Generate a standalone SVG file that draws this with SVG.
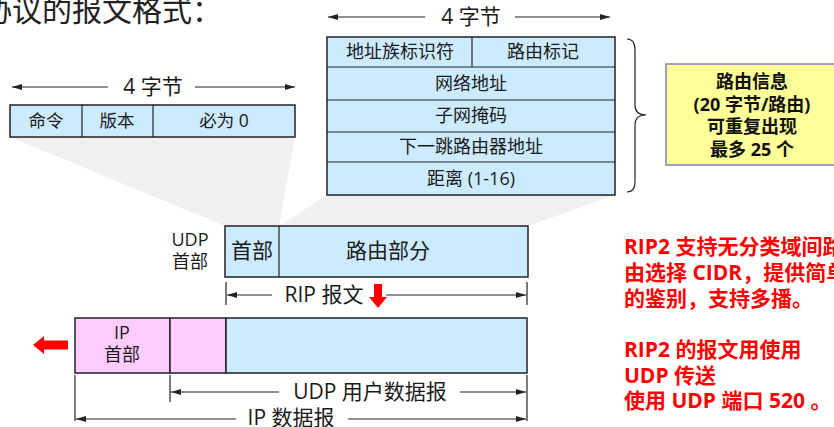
<svg xmlns="http://www.w3.org/2000/svg" width="834" height="427" viewBox="0 0 834 427">
<style>
text{font-family:"Open Sans","Noto Sans CJK SC",sans-serif;fill:#1a1a1a}
.c{text-anchor:middle}
.f17{font-size:17.5px}
.f18{font-size:18px}
.f21{font-size:21px}
.box{fill:#CCEBFF;stroke:#222;stroke-width:1.5}
.pink{fill:#FFCCFF;stroke:#222;stroke-width:1.5}
.ln{stroke:#222;stroke-width:1.2;fill:none}
.dim{stroke:#222;stroke-width:1.2;fill:none}
.red{fill:#FF0000;font-weight:bold;font-size:21px}
.yel{font-weight:bold;font-size:18px;fill:#111}
.shade{fill:#F0F0F0}
</style>
<defs>
<marker id="ah" viewBox="0 0 10 6" refX="10" refY="3" markerWidth="10" markerHeight="6" markerUnits="userSpaceOnUse" orient="auto-start-reverse">
<path d="M0,0 L10,3 L0,6 z" fill="#222"/>
</marker>
</defs>

<text x="-18" y="21" style="font-size:30px;fill:#222">协议的报文格式：</text>

<g id="shading">
<polygon class="shade" points="10,137 295,137 279,226 225,226"/>
<polygon class="shade" points="327,195 615,195 528,226 279,226"/>
</g>

<g id="header-box">
<rect class="box" x="10" y="105" width="285" height="32"/>
<line class="ln" x1="82" y1="105" x2="82" y2="137"/>
<line class="ln" x1="153" y1="105" x2="153" y2="137"/>
<text class="c f17" x="46" y="127">命令</text>
<text class="c f17" x="117" y="127">版本</text>
<text class="c f17" x="224" y="127">必为 0</text>
</g>

<g id="route-box">
<rect class="box" x="327" y="37" width="288" height="158"/>
<line class="ln" x1="327" y1="67" x2="615" y2="67"/>
<line class="ln" x1="327" y1="100" x2="615" y2="100"/>
<line class="ln" x1="327" y1="132" x2="615" y2="132"/>
<line class="ln" x1="327" y1="162" x2="615" y2="162"/>
<line class="ln" x1="472" y1="37" x2="472" y2="67"/>
<text class="c f18" x="400" y="58">地址族标识符</text>
<text class="c f18" x="543" y="58">路由标记</text>
<text class="c f18" x="471" y="90">网络地址</text>
<text class="c f18" x="471" y="122">子网掩码</text>
<text class="c f18" x="471" y="153">下一跳路由器地址</text>
<text class="c f18" x="471" y="185">距离 (1-16)</text>
</g>

<g id="brace">
<path class="ln" d="M627,39 Q635,39 635,50 L635,105 Q635,115 646,115 Q635,115 635,125 L635,182 Q635,192 627,192" stroke-width="1.5"/>
</g>

<g id="info-box">
<rect x="666" y="64" width="172" height="101" fill="#FFFF99" stroke="#8080C0" stroke-width="1.5"/>
<text class="c yel" x="752" y="88">路由信息</text>
<text class="c yel" x="752" y="110.5">(20 字节/路由)</text>
<text class="c yel" x="752" y="133">可重复出现</text>
<text class="c yel" x="752" y="155.5">最多 25 个</text>
</g>

<g id="rip-box">
<rect class="box" x="225" y="226" width="303" height="51"/>
<line class="ln" x1="279" y1="226" x2="279" y2="277" stroke-width="1.5"/>
<text class="c f21" x="252" y="258">首部</text>
<text class="c f21" x="388" y="258">路由部分</text>
</g>

<g id="udp-label">
<text class="c f18" x="190" y="246">UDP</text>
<text class="c f18" x="190" y="268">首部</text>
</g>

<g id="ip-box">
<rect class="pink" x="75" y="318" width="95" height="55"/>
<rect class="pink" x="170" y="318" width="56" height="55"/>
<rect class="box" x="226" y="318" width="301" height="55"/>
<text class="c f18" x="122" y="339">IP</text>
<text class="c f18" x="122" y="361">首部</text>
</g>

<g id="connectors">
<line class="dim" x1="12" y1="87" x2="108" y2="87" marker-start="url(#ah)"/>
<line class="dim" x1="195" y1="87" x2="295" y2="87" marker-end="url(#ah)"/>
<text class="c f21" x="153" y="94">4 字节</text>

<line class="dim" x1="328" y1="17" x2="425" y2="17" marker-start="url(#ah)"/>
<line class="dim" x1="515" y1="17" x2="610" y2="17" marker-end="url(#ah)"/>
<text class="c f21" x="471" y="24">4 字节</text>

<line class="dim" x1="226" y1="282" x2="226" y2="305"/>
<line class="dim" x1="527" y1="282" x2="527" y2="305"/>
<line class="dim" x1="227" y1="295" x2="272" y2="295" marker-start="url(#ah)"/>
<line class="dim" x1="386" y1="295" x2="526" y2="295" marker-end="url(#ah)"/>
<text class="c f21" x="324" y="302">RIP 报文</text>
<polygon fill="#FF0000" points="374,284 382,284 382,297 387,297 378,308 369,297 374,297"/>

<polygon fill="#FF0000" points="33,345 44,336 44,340.5 68,340.5 68,349.5 44,349.5 44,354"/>

<line class="dim" x1="75" y1="375" x2="75" y2="421"/>
<line class="dim" x1="170" y1="375" x2="170" y2="402"/>
<line class="dim" x1="527" y1="375" x2="527" y2="421"/>
<line class="dim" x1="171" y1="392" x2="279" y2="392" marker-start="url(#ah)"/>
<line class="dim" x1="460" y1="392" x2="526" y2="392" marker-end="url(#ah)"/>
<text class="c f21" x="370" y="399">UDP 用户数据报</text>
<line class="dim" x1="76" y1="419" x2="236" y2="419" marker-start="url(#ah)"/>
<line class="dim" x1="348" y1="419" x2="526" y2="419" marker-end="url(#ah)"/>
<text class="c f21" x="291" y="424.5">IP 数据报</text>
</g>

<g id="notes">
<text class="red" x="624" y="254">RIP2 支持无分类域间路</text>
<text class="red" x="624" y="280">由选择 CIDR，提供简单</text>
<text class="red" x="624" y="306">的鉴别，支持多播。</text>
<text class="red" x="624" y="357">RIP2 的报文用使用</text>
<text class="red" x="624" y="382.5">UDP 传送</text>
<text class="red" x="624" y="408">使用 UDP 端口 520 。</text>
</g>
</svg>
